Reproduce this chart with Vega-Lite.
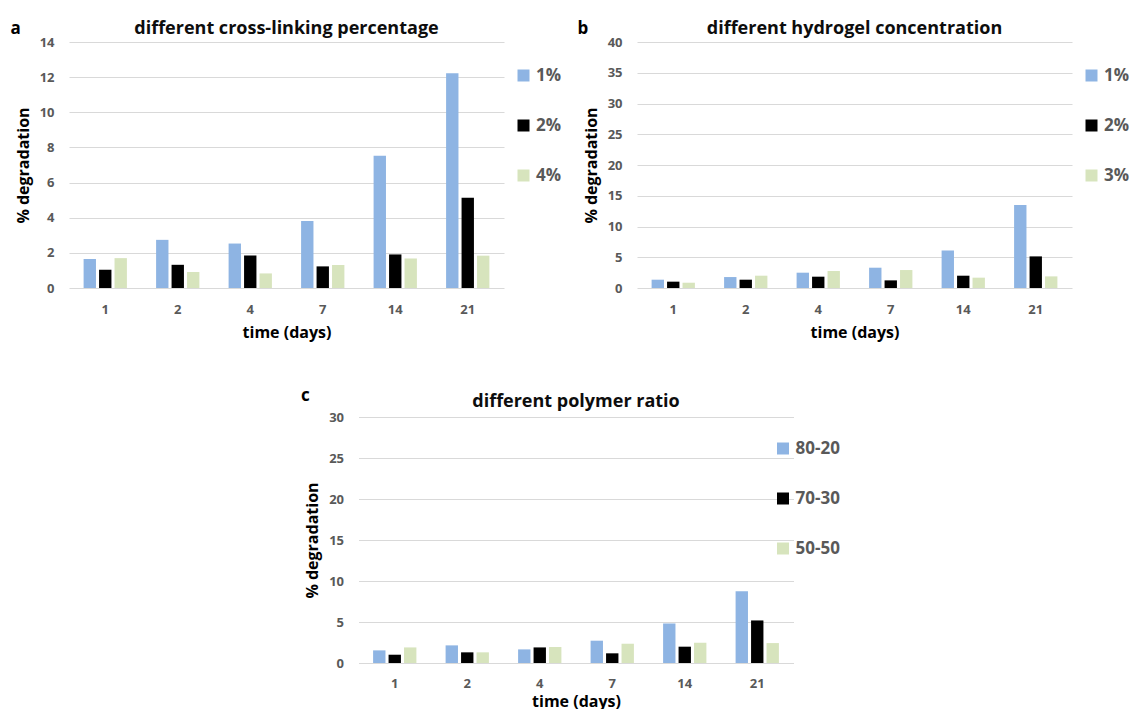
{
  "$schema": "https://vega.github.io/schema/vega-lite/v6.json",
  "padding": {"left": 10, "top": 19, "right": 0, "bottom": 0},
  "config": {
    "font": "Open Sans",
    "view": {"stroke": null},
    "axis": {"domain": false, "ticks": false, "tickSize": 0, "gridColor": "#D9D9D9", "labelFont": "Open Sans", "labelFontWeight": "bold", "labelColor": "#595959", "labelFontSize": 13, "titleFont": "Open Sans", "titleFontWeight": "bold", "titleColor": "#000000", "titleFontSize": 16},
    "legend": {"labelFontSize": 17, "labelFontWeight": "bold", "labelColor": "#595959", "symbolType": "square", "symbolSize": 144, "symbolStrokeWidth": 0, "labelOffset": 4, "rowPadding": 32, "title": null}
  },
  "datasets": {
    "a": [
      {"day": 1, "group": "1%", "value": 1.65}, {"day": 1, "group": "2%", "value": 1.04}, {"day": 1, "group": "4%", "value": 1.7},
      {"day": 2, "group": "1%", "value": 2.74}, {"day": 2, "group": "2%", "value": 1.32}, {"day": 2, "group": "4%", "value": 0.91},
      {"day": 4, "group": "1%", "value": 2.53}, {"day": 4, "group": "2%", "value": 1.85}, {"day": 4, "group": "4%", "value": 0.83},
      {"day": 7, "group": "1%", "value": 3.82}, {"day": 7, "group": "2%", "value": 1.23}, {"day": 7, "group": "4%", "value": 1.31},
      {"day": 14, "group": "1%", "value": 7.53}, {"day": 14, "group": "2%", "value": 1.91}, {"day": 14, "group": "4%", "value": 1.68},
      {"day": 21, "group": "1%", "value": 12.22}, {"day": 21, "group": "2%", "value": 5.13}, {"day": 21, "group": "4%", "value": 1.84}
    ],
    "b": [
      {"day": 1, "group": "1%", "value": 1.35}, {"day": 1, "group": "2%", "value": 1.03}, {"day": 1, "group": "3%", "value": 0.86},
      {"day": 2, "group": "1%", "value": 1.78}, {"day": 2, "group": "2%", "value": 1.35}, {"day": 2, "group": "3%", "value": 2.0},
      {"day": 4, "group": "1%", "value": 2.49}, {"day": 4, "group": "2%", "value": 1.84}, {"day": 4, "group": "3%", "value": 2.76},
      {"day": 7, "group": "1%", "value": 3.3}, {"day": 7, "group": "2%", "value": 1.24}, {"day": 7, "group": "3%", "value": 2.92},
      {"day": 14, "group": "1%", "value": 6.1}, {"day": 14, "group": "2%", "value": 2.0}, {"day": 14, "group": "3%", "value": 1.68},
      {"day": 21, "group": "1%", "value": 13.5}, {"day": 21, "group": "2%", "value": 5.14}, {"day": 21, "group": "3%", "value": 1.89}
    ],
    "c": [
      {"day": 1, "group": "80-20", "value": 1.54}, {"day": 1, "group": "70-30", "value": 1.01}, {"day": 1, "group": "50-50", "value": 1.9},
      {"day": 2, "group": "80-20", "value": 2.15}, {"day": 2, "group": "70-30", "value": 1.3}, {"day": 2, "group": "50-50", "value": 1.3},
      {"day": 4, "group": "80-20", "value": 1.66}, {"day": 4, "group": "70-30", "value": 1.9}, {"day": 4, "group": "50-50", "value": 1.95},
      {"day": 7, "group": "80-20", "value": 2.72}, {"day": 7, "group": "70-30", "value": 1.18}, {"day": 7, "group": "50-50", "value": 2.35},
      {"day": 14, "group": "80-20", "value": 4.82}, {"day": 14, "group": "70-30", "value": 1.99}, {"day": 14, "group": "50-50", "value": 2.47},
      {"day": 21, "group": "80-20", "value": 8.76}, {"day": 21, "group": "70-30", "value": 5.19}, {"day": 21, "group": "50-50", "value": 2.43}
    ]
  },
  "resolve": {"scale": {"color": "independent", "xOffset": "independent"}, "legend": {"color": "independent"}},
  "vconcat": [
    {
      "resolve": {"scale": {"color": "independent", "xOffset": "independent"}, "legend": {"color": "independent"}},
      "hconcat": [
        {
          "data": {"name": "a"},
          "width": 435, "height": 246,
          "title": {"text": "different cross-linking percentage", "anchor": "middle", "frame": "group", "fontSize": 18, "fontWeight": "bold", "color": "#0D0D0D", "baseline": "alphabetic", "offset": -33},
          "resolve": {"axis": {"x": "independent"}},
          "layer": [
            {
              "mark": {"type": "bar"},
              "encoding": {
                "x": {"field": "day", "type": "ordinal", "scale": {"paddingInner": 0.36, "paddingOuter": 0.18}, "axis": {"orient": "bottom", "title": "time (days)", "labelAngle": 0, "labelPadding": 15, "titlePadding": 8}},
                "xOffset": {"field": "group", "type": "nominal", "sort": ["1%", "2%", "4%"], "scale": {"paddingInner": 0.2, "paddingOuter": 0.1}},
                "y": {"field": "value", "type": "quantitative", "scale": {"domain": [0, 14]}, "axis": {"values": [0, 2, 4, 6, 8, 10, 12, 14], "title": "% degradation", "labelPadding": 15, "titlePadding": 8}},
                "color": {"field": "group", "type": "nominal", "sort": ["1%", "2%", "4%"], "scale": {"domain": ["1%", "2%", "4%"], "range": ["#8EB4E3", "#000000", "#D7E4BD"]}, "legend": {"orient": "none", "legendX": 446, "legendY": 25}}
              }
            },
            {
              "mark": {"type": "bar", "opacity": 0},
              "encoding": {
                "x": {"field": "day", "type": "ordinal", "axis": {"orient": "top", "labels": false, "grid": false, "title": "a", "titleFontSize": 17, "titleAnchor": "start", "titleAlign": "left", "titleBaseline": "alphabetic", "titleX": -59, "titleY": -9}}
              }
            }
          ]
        },
        {
          "data": {"name": "b"},
          "width": 435, "height": 246,
          "title": {"text": "different hydrogel concentration", "anchor": "middle", "frame": "group", "fontSize": 18, "fontWeight": "bold", "color": "#0D0D0D", "baseline": "alphabetic", "offset": -33},
          "resolve": {"axis": {"x": "independent"}},
          "layer": [
            {
              "mark": {"type": "bar"},
              "encoding": {
                "x": {"field": "day", "type": "ordinal", "scale": {"paddingInner": 0.36, "paddingOuter": 0.18}, "axis": {"orient": "bottom", "title": "time (days)", "labelAngle": 0, "labelPadding": 15, "titlePadding": 8}},
                "xOffset": {"field": "group", "type": "nominal", "sort": ["1%", "2%", "3%"], "scale": {"paddingInner": 0.2, "paddingOuter": 0.1}},
                "y": {"field": "value", "type": "quantitative", "scale": {"domain": [0, 40]}, "axis": {"values": [0, 5, 10, 15, 20, 25, 30, 35, 40], "title": "% degradation", "labelPadding": 15, "titlePadding": 8}},
                "color": {"field": "group", "type": "nominal", "sort": ["1%", "2%", "3%"], "scale": {"domain": ["1%", "2%", "3%"], "range": ["#8EB4E3", "#000000", "#D7E4BD"]}, "legend": {"orient": "none", "legendX": 446, "legendY": 25}}
              }
            },
            {
              "mark": {"type": "bar", "opacity": 0},
              "encoding": {
                "x": {"field": "day", "type": "ordinal", "axis": {"orient": "top", "labels": false, "grid": false, "title": "b", "titleFontSize": 17, "titleAnchor": "start", "titleAlign": "left", "titleBaseline": "alphabetic", "titleX": -60, "titleY": -9}}
              }
            }
          ]
        }
      ],
      "spacing": 15
    },
    {
      "data": {"name": "c"},
      "width": 435, "height": 246,
      "title": {"text": "different polymer ratio", "anchor": "middle", "frame": "group", "fontSize": 18, "fontWeight": "bold", "color": "#0D0D0D", "baseline": "alphabetic", "offset": -39},
      "resolve": {"axis": {"x": "independent"}},
      "layer": [
        {
          "mark": {"type": "bar"},
          "encoding": {
            "x": {"field": "day", "type": "ordinal", "scale": {"paddingInner": 0.36, "paddingOuter": 0.18}, "axis": {"orient": "bottom", "title": "time (days)", "labelAngle": 0, "labelPadding": 14, "titlePadding": 3}},
            "xOffset": {"field": "group", "type": "nominal", "sort": ["80-20", "70-30", "50-50"], "scale": {"paddingInner": 0.2, "paddingOuter": 0.1}},
            "y": {"field": "value", "type": "quantitative", "scale": {"domain": [0, 30]}, "axis": {"values": [0, 5, 10, 15, 20, 25, 30], "title": "% degradation", "labelPadding": 15, "titlePadding": 8}},
            "color": {"field": "group", "type": "nominal", "sort": ["80-20", "70-30", "50-50"], "scale": {"domain": ["80-20", "70-30", "50-50"], "range": ["#8EB4E3", "#000000", "#D7E4BD"]}, "legend": {"orient": "none", "legendX": 416, "legendY": 23}}
          }
        },
        {
          "mark": {"type": "bar", "opacity": 0},
          "encoding": {
            "x": {"field": "day", "type": "ordinal", "axis": {"orient": "top", "labels": false, "grid": false, "title": "c", "titleFontSize": 17, "titleAnchor": "start", "titleAlign": "left", "titleBaseline": "alphabetic", "titleX": -58, "titleY": -17}}
          }
        }
      ]
    }
  ],
  "spacing": 46,
  "center": true
}
